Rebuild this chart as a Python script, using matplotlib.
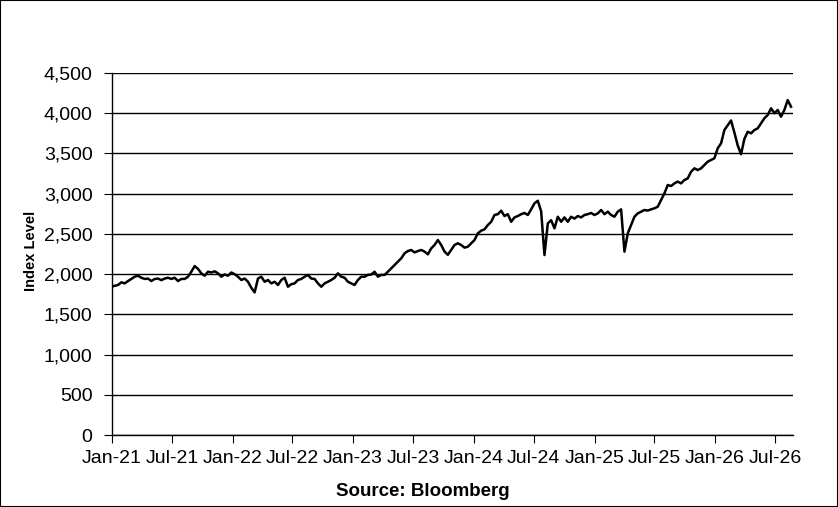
import numpy as np
import pandas as pd
import matplotlib
matplotlib.use('Agg')
import matplotlib.pyplot as plt
from matplotlib.ticker import FuncFormatter
from matplotlib.patches import Rectangle

plt.rcParams['font.family'] = ['Liberation Sans', 'DejaVu Sans']

# Index level, every 10 days
idx_2021 = [1843, 1855, 1865, 1898, 1885, 1914, 1940, 1968, 1980, 1955,
            1940, 1945, 1914, 1940, 1945, 1925, 1945, 1955, 1940, 1955,
            1914, 1940, 1940, 1968, 2030, 2100, 2065, 2010, 1980, 2030,
            2020, 2035, 2010, 1968, 1995, 1980, 2020]
idx_2022 = [2000, 1968, 1927, 1945, 1905, 1830, 1773, 1945, 1968, 1905,
            1927, 1885, 1905, 1865, 1927, 1955, 1843, 1875, 1885, 1927,
            1940, 1968, 1990, 1945, 1940, 1885, 1843, 1885, 1905, 1927,
            1955, 2010, 1968, 1955, 1905, 1885]
idx_2023 = [1865, 1927, 1968, 1968, 1990, 1995, 2030, 1968, 1990, 1990,
            2030, 2072, 2113, 2155, 2196, 2258, 2287, 2300, 2270, 2287,
            2300, 2280, 2246, 2320, 2362, 2424, 2362, 2280, 2240, 2300,
            2362, 2383, 2362, 2329, 2341, 2383]
idx_2024 = [2424, 2507, 2540, 2557, 2610, 2651, 2735, 2745, 2788, 2722,
            2745, 2651, 2705, 2722, 2745, 2760, 2735, 2805, 2880, 2912,
            2780, 2237, 2631, 2670, 2569, 2713, 2651, 2705, 2651, 2713,
            2690, 2722, 2705, 2735, 2745, 2760]
idx_2025 = [2735, 2755, 2797, 2745, 2776, 2735, 2714, 2776, 2805, 2279,
            2507, 2610, 2714, 2755, 2776, 2797, 2790, 2805, 2818, 2838,
            2921, 3004, 3108, 3095, 3128, 3150, 3128, 3170, 3190, 3273,
            3315]
idx_late = [3294, 3315, 3356, 3398, 3419, 3440, 3564, 3626, 3791, 3850,
            3910, 3760, 3600, 3490, 3680, 3770, 3750, 3791, 3812, 3875,
            3937, 3978, 4061, 4000, 4040, 3957, 4040, 4164, 4081]

values = idx_2021 + idx_2022 + idx_2023 + idx_2024 + idx_2025 + idx_late
dates = pd.date_range('2020-12-30', '2026-08-19', periods=len(values))

tick_dates = pd.date_range('2021-01-01', '2026-07-01', freq='6MS')
tick_labels = [d.strftime('%b-%y') for d in tick_dates]

fig = plt.figure(figsize=(8.38, 5.07), dpi=100)
ax = fig.add_axes([0.1337, 0.142, 0.8126, 0.714])

ax.plot(dates, values, color='black', lw=1.8)

ax.set_ylim(0, 4500)
ax.set_yticks(range(0, 4501, 500))
ax.yaxis.set_major_formatter(FuncFormatter(lambda v, p: f'{v:,.0f}'))
ax.grid(axis='y', color='black', lw=1)
ax.set_axisbelow(True)

ax.set_xlim(pd.Timestamp('2021-01-01'), pd.Timestamp('2026-08-25'))
ax.set_xticks(tick_dates)
ax.set_xticklabels(tick_labels)

for s in ['top', 'right']:
    ax.spines[s].set_visible(False)
ax.spines['left'].set_linewidth(1)
ax.spines['bottom'].set_linewidth(1)

ax.tick_params(axis='y', length=6, pad=8, labelsize=14)
ax.tick_params(axis='x', length=6, pad=5, labelsize=14)

fig.text(0.037, 0.505, 'Index Level', rotation=90, fontweight='bold',
         fontsize=10.5, ha='center', va='center')
fig.text(0.505, 0.03, 'Source: Bloomberg', fontweight='bold',
         fontsize=13.5, ha='center', va='center')

fig.add_artist(Rectangle((0, 0), 1, 1, transform=fig.transFigure,
                         fill=False, edgecolor='black', lw=1.5))

fig.savefig('out.png', dpi=100)
